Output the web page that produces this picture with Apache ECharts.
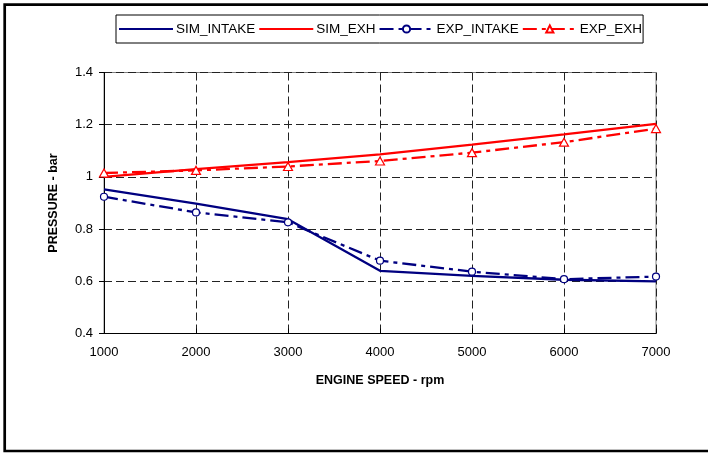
<!DOCTYPE html>
<html>
<head>
<meta charset="utf-8">
<script src="https://cdn.jsdelivr.net/npm/echarts@6/dist/echarts.min.js"></script>
<style>
  html, body { margin: 0; padding: 0; background: #fff; }
  #chart { width: 708px; height: 453px; }
</style>
</head>
<body>
<div id="chart"></div>
<script>
// Engine speed (rpm) and manifold pressures (bar)
const engineSpeed = [1000, 2000, 3000, 4000, 5000, 6000, 7000];
const simIntake = [0.952, 0.898, 0.838, 0.640, 0.621, 0.606, 0.600];
const simExh    = [1.000, 1.030, 1.057, 1.086, 1.124, 1.163, 1.203];
const expIntake = [0.924, 0.864, 0.826, 0.679, 0.637, 0.608, 0.618];
const expExh    = [1.015, 1.025, 1.040, 1.061, 1.093, 1.133, 1.185];
const yTicks = [0.4, 0.6, 0.8, 1.0, 1.2, 1.4];
const seriesNames = ['SIM_INTAKE', 'SIM_EXH', 'EXP_INTAKE', 'EXP_EXH'];

const NAVY = '#000080';
const RED = '#ff0000';
const dashDot = [14, 5, 4, 5];

const pairs = (xs, ys) => xs.map((x, i) => [x, ys[i]]);

const chart = echarts.init(document.getElementById('chart'), null, { renderer: 'canvas' });

chart.setOption({
  animation: false,
  backgroundColor: '#fff',
  textStyle: { fontFamily: '"Liberation Sans", Arial, sans-serif' },
  graphic: [{
    type: 'rect',
    shape: { x: 4.7, y: 4.7, width: 720, height: 446.3 },
    style: { fill: 'none', stroke: '#000', lineWidth: 2.7 },
    silent: true
  }],
  legend: {
    left: 116,
    top: 15,
    padding: [7, 1, 7, 2],
    itemGap: 3,
    itemWidth: 54,
    itemHeight: 9,
    borderColor: '#000',
    borderWidth: 1,
    textStyle: { fontSize: 13.5, color: '#000', padding: [0, 0, 0, -2] },
    data: [
      { name: seriesNames[0], itemStyle: { opacity: 0 } },
      { name: seriesNames[1], itemStyle: { opacity: 0 } },
      { name: seriesNames[2] },
      { name: seriesNames[3] }
    ]
  },
  grid: {
    left: 104,
    right: 52,
    top: 72.5,
    bottom: 119.5,
    show: true,
    borderColor: '#808080',
    borderWidth: 1
  },
  xAxis: {
    type: 'value',
    min: 1000,
    max: 7000,
    interval: 1000,
    name: 'ENGINE SPEED - rpm',
    nameLocation: 'middle',
    nameGap: 41,
    nameTextStyle: { fontSize: 12.5, fontWeight: 'bold', color: '#000' },
    axisLine: { show: true, lineStyle: { color: '#000', width: 1 } },
    axisTick: { show: true, inside: true, length: 5, lineStyle: { color: '#000' } },
    axisLabel: { fontSize: 13, color: '#000', margin: 12, formatter: v => String(v) },
    splitLine: { show: true, lineStyle: { color: '#222', type: [8, 4], width: 1 } }
  },
  yAxis: {
    type: 'value',
    min: 0.4,
    max: 1.4,
    interval: 0.2,
    name: 'PRESSURE - bar',
    nameLocation: 'middle',
    nameGap: 44,
    nameTextStyle: { fontSize: 12.5, fontWeight: 'bold', color: '#000' },
    axisLine: { show: true, lineStyle: { color: '#000', width: 1 } },
    axisTick: { show: true, inside: false, length: 5, lineStyle: { color: '#000' } },
    axisLabel: {
      fontSize: 13, color: '#000', margin: 11,
      formatter: v => {
        const t = yTicks.find(k => Math.abs(k - v) < 1e-6);
        return t === undefined ? '' : String(+t.toFixed(1));
      }
    },
    splitLine: { show: true, lineStyle: { color: '#222', type: [8, 4], width: 1 } }
  },
  series: [
    {
      name: seriesNames[0], type: 'line', data: pairs(engineSpeed, simIntake),
      showSymbol: false, symbol: 'none',
      lineStyle: { color: NAVY, width: 2.3 }, itemStyle: { color: NAVY }, z: 3
    },
    {
      name: seriesNames[1], type: 'line', data: pairs(engineSpeed, simExh),
      showSymbol: false, symbol: 'none',
      lineStyle: { color: RED, width: 2.3 }, itemStyle: { color: RED }, z: 3
    },
    {
      name: seriesNames[2], type: 'line', data: pairs(engineSpeed, expIntake),
      symbol: 'circle', symbolSize: 7,
      lineStyle: { color: NAVY, width: 2.3, type: dashDot },
      itemStyle: { color: '#fff', borderColor: NAVY, borderWidth: 1.2 }, z: 4
    },
    {
      name: seriesNames[3], type: 'line', data: pairs(engineSpeed, expExh),
      symbol: 'triangle', symbolSize: [9, 8],
      lineStyle: { color: RED, width: 2.3, type: dashDot },
      itemStyle: { color: '#fff', borderColor: RED, borderWidth: 1.2 }, z: 4
    }
  ]
});
</script>
</body>
</html>
